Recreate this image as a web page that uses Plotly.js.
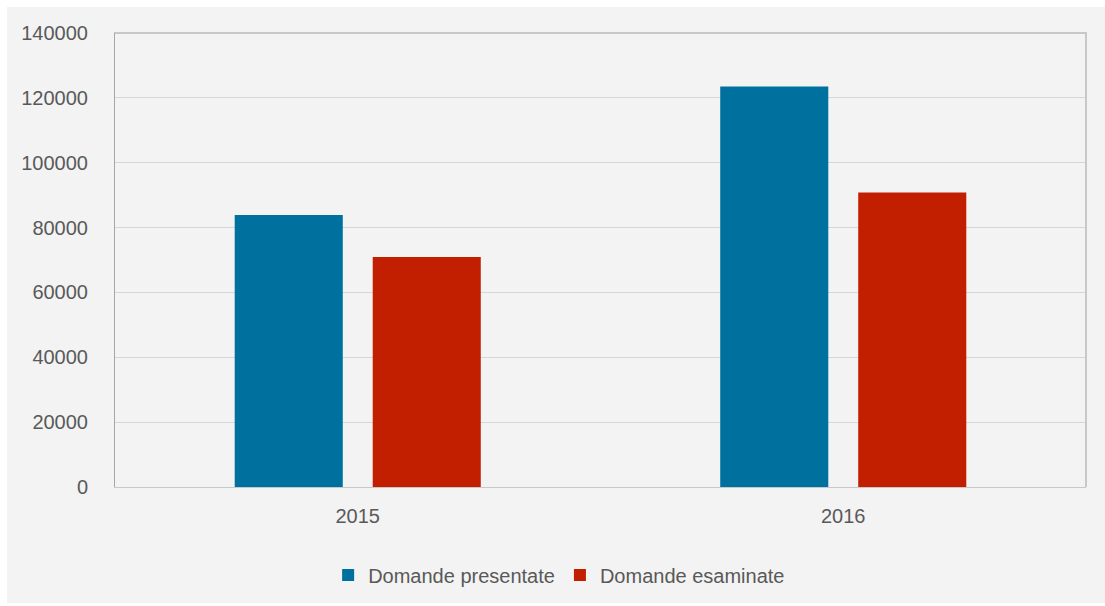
<!DOCTYPE html>
<html>
<head>
<meta charset="utf-8">
<script src="https://cdn.plot.ly/plotly-3.0.1.min.js"></script>
<style>
  html, body { margin: 0; padding: 0; background: #ffffff; }
  #chart { width: 1105px; height: 606px; }
</style>
</head>
<body>
<div id="chart"></div>
<script>
// Years on the category axis
const years = ['2015', '2016'];

// Applications submitted and examined per year
const presentate = [83900, 123500];
const esaminate = [70900, 90800];

// Series names shown in the legend
const seriesNames = ['Domande presentate', 'Domande esaminate'];

// Value-axis ticks
const yTicks = [0, 20000, 40000, 60000, 80000, 100000, 120000, 140000];

const FONT = '"Liberation Sans", Arial, sans-serif';
const TEXT = '#595959';

const traces = [
  {
    type: 'bar',
    name: seriesNames[0],
    x: years,
    y: presentate,
    marker: { color: '#00709e' },
    hoverinfo: 'x+y+name'
  },
  {
    type: 'bar',
    name: seriesNames[1],
    x: years,
    y: esaminate,
    marker: { color: '#c21f00' },
    hoverinfo: 'x+y+name'
  }
];

const layout = {
  width: 1105,
  height: 606,
  margin: { l: 115, r: 19, t: 33, b: 119 },
  paper_bgcolor: '#ffffff',
  plot_bgcolor: '#f3f3f3',
  font: { family: FONT, size: 20, color: TEXT },
  barmode: 'group',
  bargap: 0.4315,
  bargroupgap: 0.217,
  showlegend: true,
  legend: {
    orientation: 'h',
    xref: 'container',
    yref: 'container',
    x: 0.506,
    xanchor: 'center',
    y: 0.051,
    yanchor: 'middle',
    bgcolor: 'rgba(0,0,0,0)',
    font: { family: FONT, size: 20, color: TEXT },
    itemwidth: 30,
    traceorder: 'normal'
  },
  xaxis: {
    type: 'category',
    showgrid: false,
    showline: true,
    linecolor: '#c8c8c8',
    linewidth: 1,
    mirror: true,
    ticks: '',
    ticklabelstandoff: 11,
    tickfont: { family: FONT, size: 20, color: TEXT },
    zeroline: false
  },
  yaxis: {
    range: [0, 140000],
    tickvals: yTicks,
    ticktext: yTicks.map(String),
    showgrid: true,
    gridcolor: '#d6d6d6',
    gridwidth: 1,
    showline: true,
    linecolor: '#a6a6a6',
    linewidth: 1,
    mirror: false,
    ticks: '',
    ticklabelstandoff: 22,
    tickfont: { family: FONT, size: 20, color: TEXT },
    zeroline: false
  },
  shapes: [
    {
      // light panel behind the whole chart
      type: 'rect', xref: 'paper', yref: 'paper', layer: 'below',
      x0: -108 / 971, x1: 1.0 + 19 / 971,
      y0: -116 / 454, y1: 1.0 + 26 / 454,
      fillcolor: '#f3f3f3', line: { width: 0 }
    },
    {
      // frame on top and right of the plot area
      type: 'path', xref: 'paper', yref: 'paper', layer: 'above',
      path: 'M 0 1 L 1 1 L 1 0',
      line: { color: '#c8c8c8', width: 2 }
    }
  ]
};

Plotly.newPlot('chart', traces, layout, { displayModeBar: false, staticPlot: true });
</script>
</body>
</html>
